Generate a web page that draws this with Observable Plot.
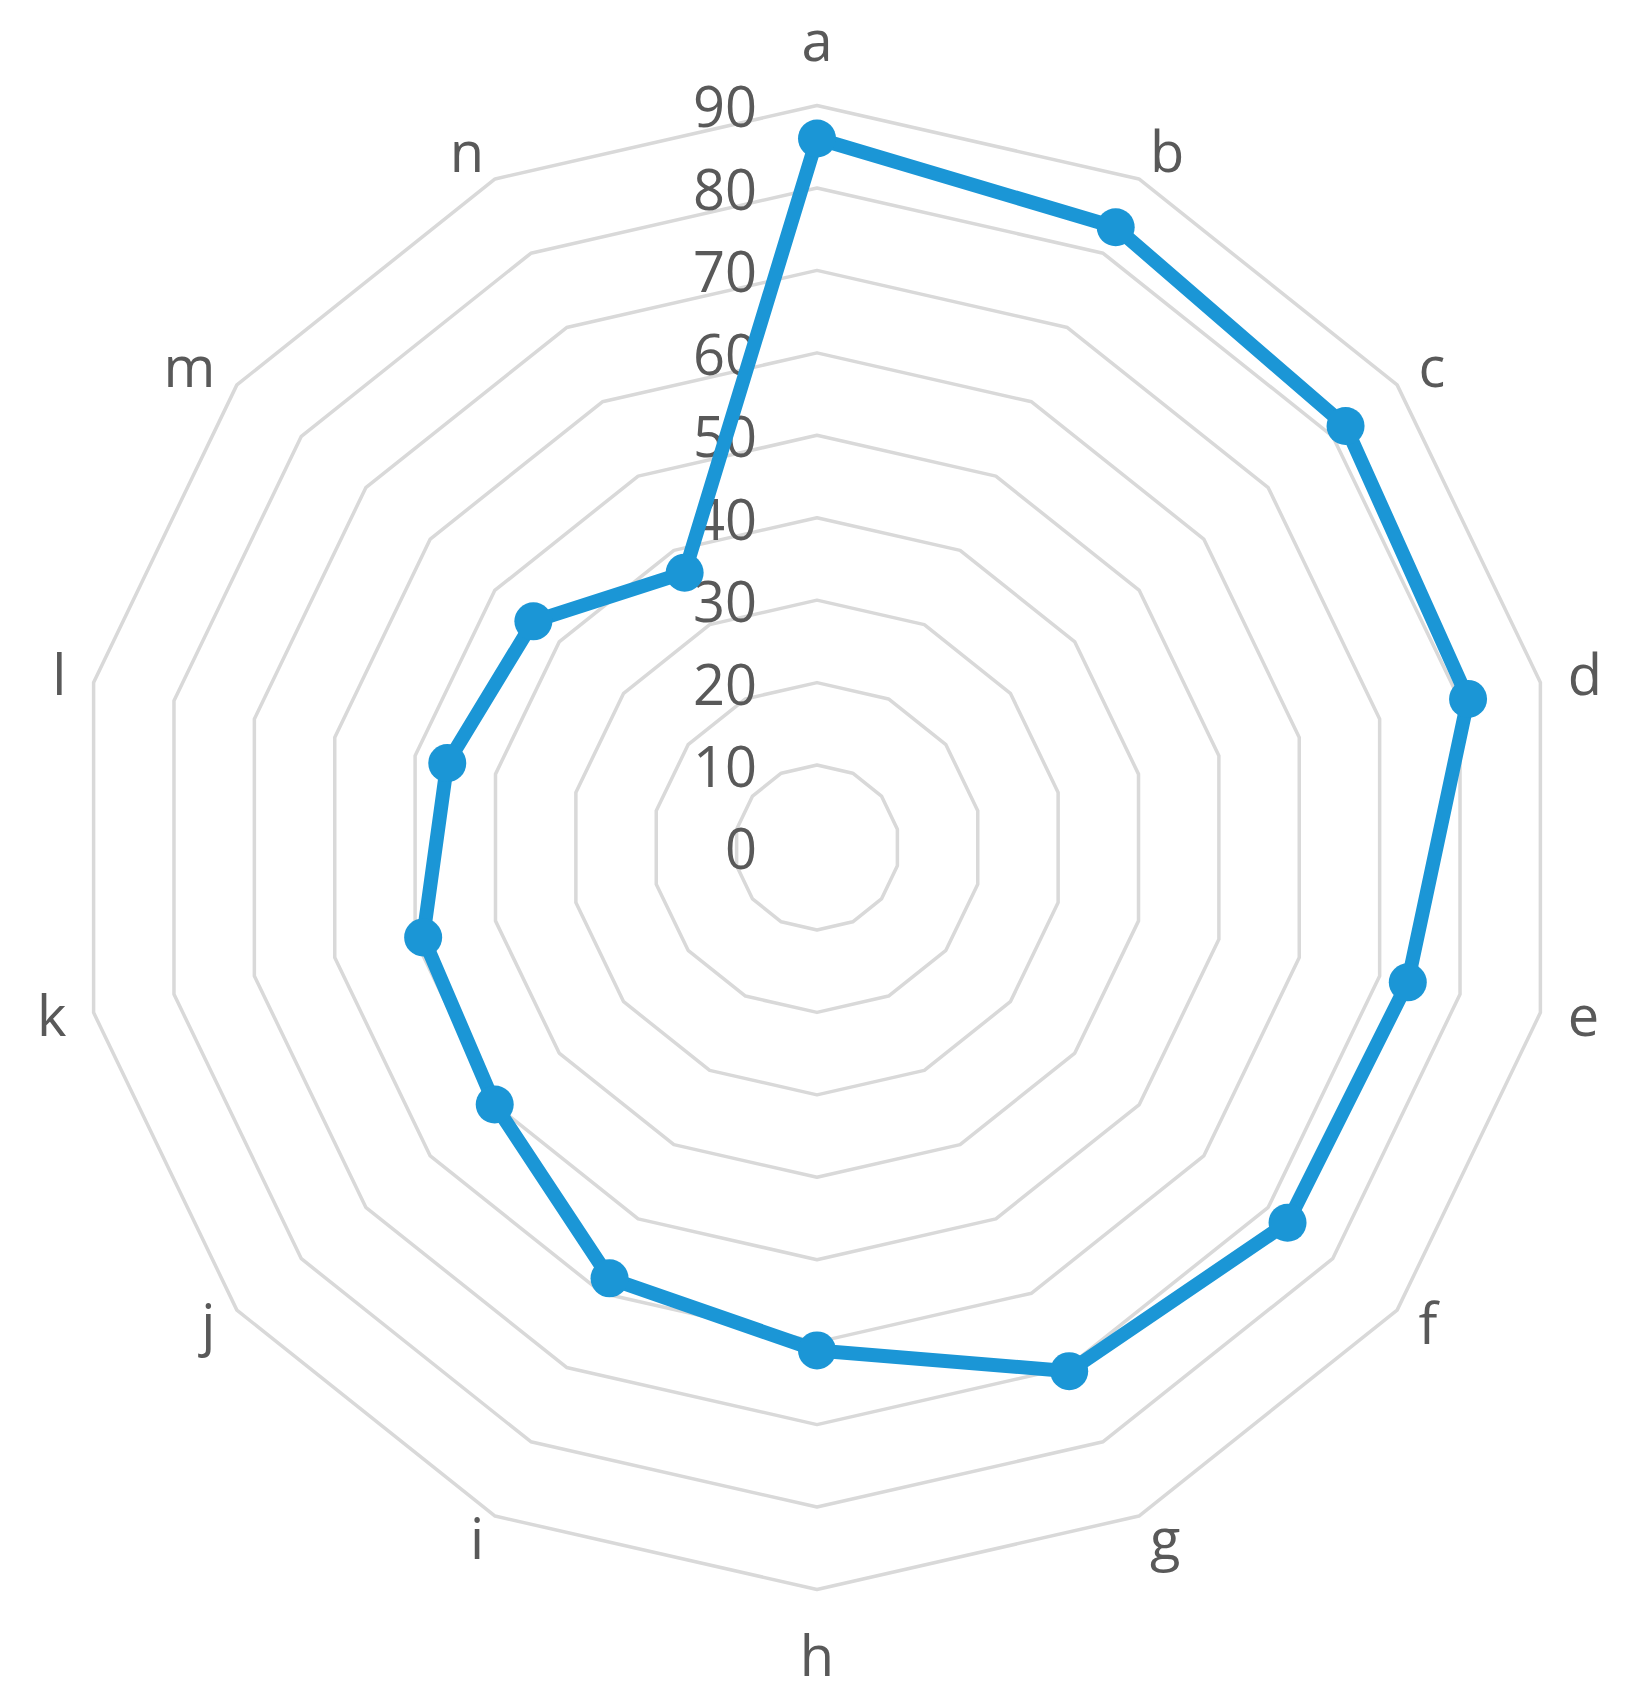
<!DOCTYPE html>
<html><head><meta charset="utf-8">
<script src="https://cdn.jsdelivr.net/npm/d3@7"></script>
<script src="https://cdn.jsdelivr.net/npm/@observablehq/plot@0.6"></script>
<style>html,body{margin:0;padding:0;background:#fff;overflow:hidden} svg{display:block}</style>
</head><body><div id="chart"></div>
<script>
const categories = ["a","b","c","d","e","f","g","h","i","j","k","l","m","n"];
const values = [86, 83.5, 82, 81, 73.5, 73, 70.5, 61, 58, 50, 49, 46, 44, 37];
const ringLevels = [10, 20, 30, 40, 50, 60, 70, 80, 90];
const tickLabels = [0, 10, 20, 30, 40, 50, 60, 70, 80, 90];

const W = 1633, H = 1699;
const cx = 816.5, cy = 847, R = 742, maxV = 90;
const k = R / maxV;
const xDomain = [-cx / k, (W - cx) / k];
const yDomain = [-(H - cy) / k, cy / k];
const n = categories.length;
const angle = i => 2 * Math.PI * i / n;
const polar = (v, i) => ({x: v * Math.sin(angle(i)), y: v * Math.cos(angle(i))});

const series = categories.map((c, i) => ({cat: c, value: values[i], ...polar(values[i], i)}));
const grid = ringLevels.flatMap(level => categories.map((c, i) => ({level, ...polar(level, i)})));
// category labels placed just outside the outer ring, anchored by side like Excel's label boxes
const labelData = categories.map((c, i) => {
  const th = angle(i);
  const s = Math.sin(th), co = Math.cos(th);
  const side = Math.abs(s) < 0.01 ? "middle" : (s > 0 ? "start" : "end");
  const offX = side === "middle" ? 0 : Math.sign(s) * (-2 + 30 * Math.abs(s));
  const offY = co >= 0 ? (26 * co + 36 * Math.pow(co, 30)) : (26 * co - 43 * Math.pow(-co, 30));
  const v = polar(maxV, i);
  return {cat: c, side, x: v.x + offX / k, y: v.y + offY / k};
});
const ticks = tickLabels.map(t => ({t, x: 0, y: t}));

const labelStyle = {x: "x", y: "y", text: "cat", fontSize: 56, fill: "#595959"};

const chart = Plot.plot({
  width: W, height: H, margin: 0,
  x: {domain: xDomain, axis: null},
  y: {domain: yDomain, axis: null},
  style: {fontFamily: "'Open Sans', sans-serif", background: "#fff"},
  marks: [
    Plot.line(grid, {x: "x", y: "y", z: "level", curve: "linear-closed", stroke: "#d9d9d9", strokeWidth: 3.5}),
    Plot.text(ticks, {x: "x", y: "y", text: d => String(d.t), textAnchor: "end", dx: -60, dy: 4, fontSize: 56, fill: "#595959"}),
    Plot.line(series, {x: "x", y: "y", curve: "linear-closed", stroke: "#1b96d6", strokeWidth: 14, strokeLinejoin: "round"}),
    Plot.dot(series, {x: "x", y: "y", r: 19, fill: "#1b96d6"}),
    Plot.text(labelData.filter(d => d.side === "middle"), {...labelStyle, textAnchor: "middle"}),
    Plot.text(labelData.filter(d => d.side === "start"), {...labelStyle, textAnchor: "start"}),
    Plot.text(labelData.filter(d => d.side === "end"), {...labelStyle, textAnchor: "end"})
  ]
});
document.getElementById("chart").appendChild(chart);
</script>
</body></html>
